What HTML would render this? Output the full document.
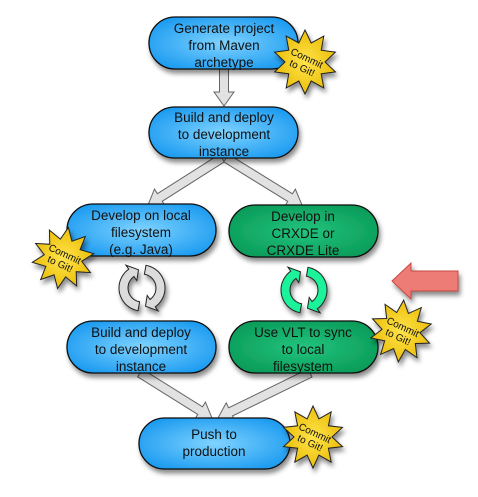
<!DOCTYPE html>
<html><head><meta charset="utf-8"><style>
html,body{margin:0;padding:0;background:#fff;}
svg{display:block;font-family:"Liberation Sans",sans-serif;}
</style></head><body>
<svg id="s" width="478" height="497" viewBox="0 0 478 497" xmlns="http://www.w3.org/2000/svg">
<defs>
<radialGradient id="gb" cx="50%" cy="50%" r="60%"><stop offset="0" stop-color="#7fd3ff"/><stop offset="1" stop-color="#1a9af0"/></radialGradient>
<radialGradient id="gg" cx="50%" cy="50%" r="60%"><stop offset="0" stop-color="#22c47e"/><stop offset="1" stop-color="#0a9a58"/></radialGradient>
<radialGradient id="gy" cx="50%" cy="50%" r="60%"><stop offset="0" stop-color="#ffe44a"/><stop offset="1" stop-color="#e8b800"/></radialGradient>
<filter id="sh" x="-20%" y="-20%" width="150%" height="160%"><feDropShadow dx="2" dy="4" stdDeviation="2.5" flood-color="#000" flood-opacity="0.45"/></filter>
</defs>
<g id="arrows"></g>
<g id="boxes" filter="url(#sh)">
<rect x="149" y="17" width="149" height="52" rx="26" fill="url(#gb)" stroke="#111" stroke-width="1.3"/>
<rect x="149" y="107" width="149" height="51" rx="25.5" fill="url(#gb)" stroke="#111" stroke-width="1.3"/>
<rect x="67" y="204" width="149" height="52" rx="26" fill="url(#gb)" stroke="#111" stroke-width="1.3"/>
<rect x="229" y="205" width="149" height="52" rx="26" fill="url(#gg)" stroke="#111" stroke-width="1.3"/>
<rect x="67" y="321" width="149" height="52" rx="26" fill="url(#gb)" stroke="#111" stroke-width="1.3"/>
<rect x="229" y="321" width="149" height="52" rx="26" fill="url(#gg)" stroke="#111" stroke-width="1.3"/>
<rect x="139" y="418" width="151" height="51" rx="25.5" fill="url(#gb)" stroke="#111" stroke-width="1.3"/>
</g>
<g font-size="13.5" fill="#111" text-anchor="middle">
<text x="224" y="33">Generate project</text><text x="224" y="50">from Maven</text><text x="224" y="67">archetype</text>
<text x="224" y="122">Build and deploy</text><text x="224" y="139">to development</text><text x="224" y="156">instance</text>
<text x="141" y="220">Develop on local</text><text x="141" y="237">filesystem</text><text x="141" y="254">(e.g. Java)</text>
<text x="303" y="221">Develop in</text><text x="303" y="238">CRXDE or</text><text x="303" y="255">CRXDE Lite</text>
<text x="141" y="337">Build and deploy</text><text x="141" y="354">to development</text><text x="141" y="371">instance</text>
<text x="303" y="337">Use VLT to sync</text><text x="303" y="354">to local</text><text x="303" y="371">filesystem</text>
<text x="214" y="439">Push to</text><text x="214" y="456">production</text>
</g>
<g id="stars"></g>
<g id="cyc" filter="url(#sh)"></g>
<polygon points="392,281 411,263 411,271 458,271 458,291 411,291 411,299" fill="#ec7b74" stroke="#c94a40" stroke-width="1" filter="url(#sh)"/>
</svg>
<script>
var NS="http://www.w3.org/2000/svg";
function el(p,t,a,txt){var e=document.createElementNS(NS,t);for(var k in a)e.setAttribute(k,a[k]);if(txt)e.textContent=txt;document.getElementById(p).appendChild(e);return e;}
function arrow(x1,y1,x2,y2){
 var dx=x2-x1,dy=y2-y1,L=Math.hypot(dx,dy),ux=dx/L,uy=dy/L,nx=-uy,ny=ux,w=4.5,hw=10,hl=14;
 var bx=x2-ux*hl,by=y2-uy*hl;
 var pts=[[x1+nx*w,y1+ny*w],[bx+nx*w,by+ny*w],[bx+nx*hw,by+ny*hw],[x2,y2],[bx-nx*hw,by-ny*hw],[bx-nx*w,by-ny*w],[x1-nx*w,y1-ny*w]];
 el("arrows","polygon",{points:pts.map(function(p){return p.join(",")}).join(" "),fill:"#e2e2e2",stroke:"#666","stroke-width":1});
}
arrow(224,69,224,106);
arrow(222,158,148,205);arrow(226,158,302,205);
arrow(140,373,212,418);arrow(310,373,218,418);
function star(cx,cy,ro,ri,n,rot){
 var g=el("stars","g",{filter:"url(#sh)"});
 var pts=[];for(var i=0;i<2*n;i++){var r=i%2?ri:ro,a=(rot+i*180/n)*Math.PI/180;pts.push((cx+r*Math.cos(a)).toFixed(1)+","+(cy+r*Math.sin(a)).toFixed(1));}
 var p=document.createElementNS(NS,"polygon");p.setAttribute("points",pts.join(" "));p.setAttribute("fill","url(#gy)");p.setAttribute("stroke","#222");p.setAttribute("stroke-width","1");g.appendChild(p);
 var t=document.createElementNS(NS,"g");t.setAttribute("transform","translate("+cx+","+cy+") rotate(25)");
 t.setAttribute("font-size","10");t.setAttribute("text-anchor","middle");t.setAttribute("fill","#111");
 t.innerHTML='<text x="0" y="-1">Commit</text><text x="0" y="10">to Git!</text>';g.appendChild(t);
}
star(305,62,32,20,10,-90);star(63,258,31,19,10,-80);star(401,331,31,19,10,-85);star(313,437,31,19,10,-90);
function cyc(cx,cy,fill){
 function pt(r,a){a=a*Math.PI/180;return (cx+r*Math.cos(a)).toFixed(1)+","+(cy+r*Math.sin(a)).toFixed(1);}
 function arc(a0,a1){var ro=23,ri=14,s="M"+pt(ro,a0);for(var a=a0;a<=a1;a+=5)s+=" L"+pt(ro,a);
  s+=" L"+pt(ro+5,a1)+" L"+pt(18.5,a1+24)+" L"+pt(ri-5,a1);for(var a=a1;a>=a0;a-=5)s+=" L"+pt(ri,a);return s+"Z";}
 el("cyc","path",{d:arc(100,235),fill:fill,stroke:"#222","stroke-width":1});
 el("cyc","path",{d:arc(-80,55),fill:fill,stroke:"#222","stroke-width":1});
}
cyc(142,288,"#dcdcdc");cyc(304,290,"#1ef29a");
</script>
</body></html>
